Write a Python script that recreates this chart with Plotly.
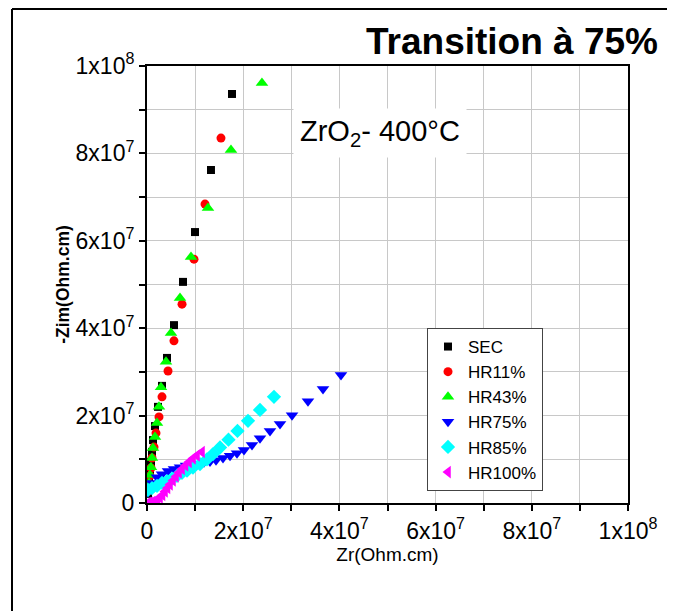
import plotly.graph_objects as go

# ---- data (values in units of 1e6 Ohm.cm) ----
sec_x = [17.67, 13.3, 9.98, 7.48, 5.61, 4.16, 3.12, 2.29, 1.66, 1.25, 1.04, 0.83, 0.62, 0.42, 0.21, 0.21]
sec_y = [93.6, 76.2, 62.0, 50.6, 40.7, 33.2, 26.8, 22.0, 17.6, 14.4, 11.7, 9.4, 7.3, 5.5, 3.7, 2.1]

hr11_x = [15.38, 12.06, 9.77, 7.28, 5.61, 4.37, 3.12, 2.49, 1.87, 1.46, 1.04, 0.83, 0.62, 0.42, 0.21]
hr11_y = [83.5, 68.4, 55.8, 45.5, 37.1, 30.2, 24.3, 19.7, 16.0, 12.8, 10.3, 8.0, 6.2, 4.3, 2.7]

hr43_x = [23.9, 17.46, 12.68, 9.15, 6.86, 4.99, 3.95, 2.91, 2.49, 2.08, 1.66, 1.25, 1.04, 0.83, 0.62, 0.42, 0.21]
hr43_y = [96.1, 80.8, 67.5, 56.3, 46.9, 38.9, 32.3, 26.5, 22.0, 18.3, 15.1, 12.6, 10.3, 8.2, 6.4, 4.6, 3.0]

hr75_x = [0.21, 1.04, 2.08, 3.12, 4.37, 5.61, 6.86, 8.11, 9.36, 10.6, 11.85, 13.1, 14.35, 15.8,
          17.26, 18.71, 20.17, 21.83, 23.49, 25.57, 27.65, 30.15, 33.47, 36.59, 40.33]
hr75_y = [2.5, 4.6, 5.9, 6.6, 7.3, 7.8, 8.2, 8.6, 8.8, 9.0, 9.3, 9.5, 9.8, 10.3,
          10.8, 11.4, 12.1, 13.3, 14.8, 16.5, 18.1, 20.1, 23.3, 26.1, 29.3]

hr85_x = [0.21, 1.04, 2.08, 3.12, 4.16, 5.2, 6.24, 7.28, 8.32, 9.56, 11.02, 12.47, 13.72, 15.18,
          16.94, 18.81, 21.0, 23.49, 26.4]
hr85_y = [3.0, 3.4, 3.9, 4.6, 5.0, 5.6, 6.2, 6.9, 7.4, 8.1, 8.9, 10.0, 11.2, 12.7,
          14.5, 16.5, 18.8, 21.3, 24.3]

hr100_x = [0.21, 0.62, 1.14, 1.66, 2.18, 2.7, 3.22, 3.74, 4.26, 4.78, 5.41, 6.03, 6.65, 7.28,
           8.0, 8.73, 9.56, 10.4, 11.43]
hr100_y = [0.0, 0.11, 0.23, 0.46, 0.8, 1.26, 1.83, 2.63, 3.43, 4.23, 5.15, 6.06, 6.98, 7.78,
           8.58, 9.38, 10.18, 10.87, 11.67]

tick_vals = [0, 1e7, 2e7, 3e7, 4e7, 5e7, 6e7, 7e7, 8e7, 9e7, 1e8]
tick_text = ["0", "", "2x10<sup>7</sup>", "", "4x10<sup>7</sup>", "", "6x10<sup>7</sup>", "",
             "8x10<sup>7</sup>", "", "1x10<sup>8</sup>"]

series = [
    ("SEC", sec_x, sec_y, "black", "square", 8),
    ("HR11%", hr11_x, hr11_y, "#ff0000", "circle", 9),
    ("HR43%", hr43_x, hr43_y, "#00ff00", "triangle-up", 11),
    ("HR75%", hr75_x, hr75_y, "#0000ff", "triangle-down", 11),
    ("HR85%", hr85_x, hr85_y, "#00ffff", "diamond", 11),
    ("HR100%", hr100_x, hr100_y, "#ff00ff", "triangle-left", 11),
]

fig = go.Figure()
for name, xs, ys, col, sym, sz in series:
    fig.add_trace(go.Scatter(
        x=[v * 1e6 for v in xs], y=[v * 1e6 for v in ys], mode="markers", name=name,
        marker=dict(color=col, symbol=sym, size=sz, line=dict(width=0)),
    ))

FONT = "Liberation Sans, Arial, sans-serif"
axis_common = dict(
    range=[0, 1e8], tickmode="array", tickvals=tick_vals, ticktext=tick_text,
    showgrid=True, gridcolor="#c8c8c8", gridwidth=1,
    showline=True, linecolor="black", linewidth=2, mirror=True,
    ticks="outside", ticklen=6, tickwidth=1.5, tickcolor="black",
    tickfont=dict(family=FONT, size=23, color="black"), zeroline=False,
)

fig.update_xaxes(**axis_common,
                 title=dict(text="Zr(Ohm.cm)", font=dict(family=FONT, size=19, color="black"), standoff=0))
fig.update_yaxes(**axis_common,
                 title=dict(text="<b>-Zim(Ohm.cm)</b>", font=dict(family=FONT, size=17.5, color="black"), standoff=1))

# page offset of the plot div (body margin)
OFF = 8
L, R, T, B = 147 - OFF, 628 - OFF, 66 - OFF, 503 - OFF
W, H = R - L, B - T
def px(x):
    return (x - OFF - L) / W
def py(y):
    return (B - (y - OFF)) / H

fig.update_layout(
    width=675, height=611,
    margin=dict(l=L, r=675 - R, t=T, b=611 - B),
    paper_bgcolor="white", plot_bgcolor="white",
    font=dict(family=FONT, color="black"),
    showlegend=True,
    legend=dict(x=px(427), y=py(328), xanchor="left", yanchor="top",
                bgcolor="white", bordercolor="#444", borderwidth=1,
                font=dict(family=FONT, size=17, color="black"),
                itemsizing="trace", tracegroupgap=0),
    shapes=[
        dict(type="line", xref="paper", yref="paper", x0=px(12), x1=px(12), y0=py(640), y1=py(9),
             line=dict(color="black", width=2), layer="below"),
        dict(type="line", xref="paper", yref="paper", x0=px(12), x1=px(668), y0=py(9), y1=py(9),
             line=dict(color="black", width=2), layer="below"),
        dict(type="line", xref="paper", yref="paper", x0=px(668), x1=px(668), y0=py(640), y1=py(9),
             line=dict(color="black", width=2), layer="below"),
    ],
    annotations=[
        dict(text="<b>Transition à 75%</b>", xref="paper", yref="paper",
             x=px(660), y=py(41), xanchor="right", yanchor="middle", showarrow=False,
             font=dict(family=FONT, size=37, color="black")),
        dict(text="ZrO<sub>2</sub>- 400°C", xref="paper", yref="paper",
             x=px(380), y=py(133), xanchor="center", yanchor="middle", showarrow=False,
             bgcolor="white", borderpad=6,
             font=dict(family=FONT, size=29, color="black")),
    ],
)

fig.write_html("out.html")
